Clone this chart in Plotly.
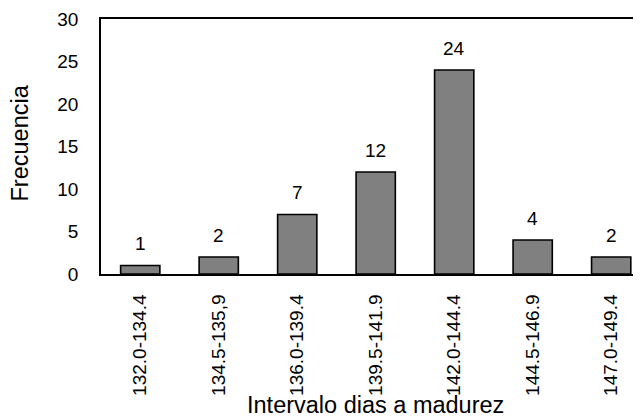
import plotly.graph_objects as go

categories = ["132.0-134.4", "134.5-135,9", "136.0-139.4", "139.5-141.9",
              "142.0-144.4", "144.5-146.9", "147.0-149.4"]
frequencies = [1, 2, 7, 12, 24, 4, 2]
y_ticks = [0, 5, 10, 15, 20, 25, 30]
x_title = "Intervalo dias a madurez"
y_title = "Frecuencia"

FONT = "Liberation Sans, Arial, sans-serif"

fig = go.Figure()
fig.add_trace(go.Bar(
    x=list(range(len(categories))),
    y=frequencies,
    marker=dict(color="#808080", line=dict(color="#000000", width=1.6)),
    width=0.5,
    hoverinfo="skip",
))

for i, v in enumerate(frequencies):
    fig.add_annotation(x=i, y=v, text=str(v), showarrow=False, yanchor="middle",
                       yshift=22, font=dict(family=FONT, size=19, color="#000"))

fig.add_annotation(x=3, xref="x", y=0, yref="paper", yanchor="middle",
                   text=x_title, showarrow=False, yshift=-131,
                   font=dict(family=FONT, size=23.5, color="#000"))
fig.add_annotation(x=0, xref="paper", xanchor="center", xshift=-82, y=0.5,
                   yref="paper", yshift=3,
                   text=y_title, textangle=-90, showarrow=False,
                   font=dict(family=FONT, size=23.5, color="#000"))

# page body has an 8px default margin; compensate so the plot area lands at
# x 101..641, y 19..274 in the window
fig.update_layout(
    width=641, height=419,
    margin=dict(l=93, r=8, t=11, b=153, autoexpand=False),
    plot_bgcolor="white", paper_bgcolor="white",
    showlegend=False,
    font=dict(family=FONT, size=19, color="#000"),
)
fig.update_xaxes(
    tickmode="array", tickvals=list(range(len(categories))), ticktext=categories,
    tickangle=-90, range=[-0.5, 6.38], showline=True, linecolor="#000", linewidth=1.8,
    mirror=True, showgrid=False, zeroline=False, ticks="", ticklabelstandoff=11,
    tickfont=dict(family=FONT, size=19, color="#000"), fixedrange=True,
    automargin=False,
)
fig.update_yaxes(
    tickmode="array", tickvals=y_ticks, range=[0, 30], showline=True,
    linecolor="#000", linewidth=1.8, showgrid=False, zeroline=False, ticks="",
    ticklabelstandoff=17, tickfont=dict(family=FONT, size=19, color="#000"),
    automargin=False,
)

fig.write_html("out.html")
